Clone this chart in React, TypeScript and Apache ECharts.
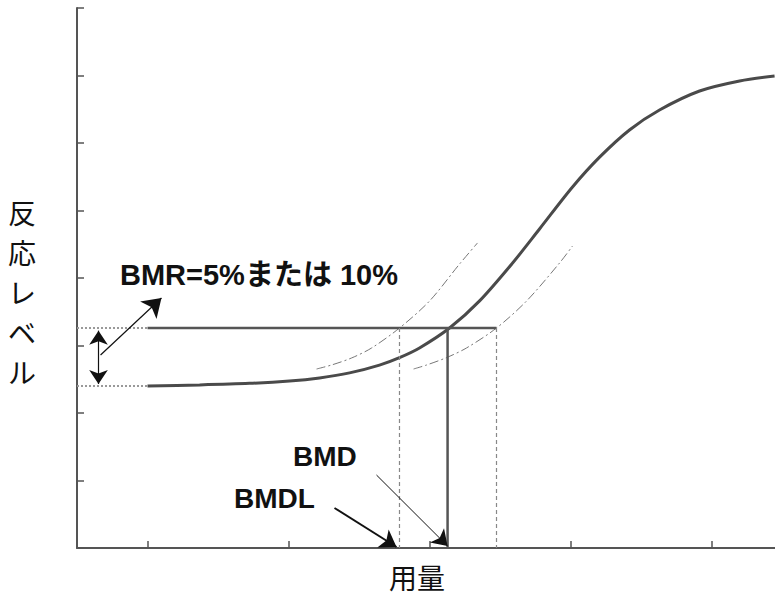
import React, { useEffect, useRef } from "react";
import * as echarts from "echarts";

// Dose-response curve (x: dose units, y: response level)
const curveX = [0, 0.369, 0.723, 1.007, 1.22, 1.433, 1.645, 1.787, 1.929, 2.142, 2.355, 2.589, 2.78, 3.014, 3.206, 3.418, 3.631, 3.915, 4.199, 4.447];
const curveY = [2.4, 2.416, 2.439, 2.474, 2.52, 2.594, 2.71, 2.821, 2.964, 3.259, 3.661, 4.222, 4.726, 5.348, 5.79, 6.193, 6.489, 6.77, 6.919, 6.993];
// Confidence curves (dash-dot)
const ciLeftX = [1.199, 1.305, 1.447, 1.589, 1.787, 2.0, 2.213, 2.34];
const ciLeftY = [2.652, 2.711, 2.815, 2.963, 3.259, 3.659, 4.207, 4.519];
const ciRightX = [1.887, 1.979, 2.121, 2.262, 2.475, 2.688, 2.922, 3.014];
const ciRightY = [2.652, 2.711, 2.821, 2.963, 3.259, 3.659, 4.222, 4.474];
// Key levels
const baseLevel = 2.4;
const bmrLevel = 3.259;
const bmdlX = 1.787;
const bmdX = 2.128;
const bmduX = 2.475;
const xTicks = [0, 1, 2, 3, 4];
const xMin = -0.5;
const xMax = 4.45;
const yMin = 0;
const yMax = 8;

const zip = (xs: number[], ys: number[]) => xs.map((x, i) => [x, ys[i]]);

export default function App() {
  const ref = useRef<HTMLDivElement>(null);
  useEffect(() => {
    document.body.style.margin = "0";
    const chart = echarts.init(ref.current!, undefined, { renderer: "svg" });
    const axisColor = "#555";
    const lineSeries = (data: number[][], lineStyle: any, smooth: any = false) => ({
      type: "line",
      data,
      smooth,
      showSymbol: false,
      symbol: "none",
      silent: true,
      lineStyle,
      z: 3,
    });
    const arrow = (from: number[], to: number[], width: number, both = false, size = 14) => ({
      type: "lines",
      coordinateSystem: "cartesian2d",
      symbol: both ? ["arrow", "arrow"] : ["none", "arrow"],
      symbolSize: size,
      silent: true,
      lineStyle: { color: "#111", width, opacity: 1, curveness: 0 },
      itemStyle: { color: "#111" },
      data: [{ coords: [from, to] }],
      z: 5,
    });
    const font = "'Liberation Sans', Arial, 'Noto Sans CJK JP', sans-serif";
    chart.setOption({
      animation: false,
      grid: { left: 77, top: 8, right: 0, bottom: 50 },
      xAxis: {
        type: "value",
        min: xMin,
        max: xMax,
        axisLine: { show: true, onZero: false, lineStyle: { color: axisColor, width: 2 } },
        axisTick: { show: true, inside: true, length: 7, customValues: xTicks, lineStyle: { color: axisColor, width: 1.5 } },
        axisLabel: { show: false },
        splitLine: { show: false },
      },
      yAxis: {
        type: "value",
        min: yMin,
        max: yMax,
        interval: 1,
        axisLine: { show: true, onZero: false, lineStyle: { color: axisColor, width: 2 } },
        axisTick: { show: true, inside: true, length: 7, lineStyle: { color: axisColor, width: 1.5 } },
        axisLabel: { show: false },
        splitLine: { show: false },
      },
      series: [
        lineSeries(zip(curveX, curveY), { color: "#4a4a4a", width: 3 }, 0.3),
        lineSeries(zip(ciLeftX, ciLeftY), { color: "#777", width: 1, type: [9, 3, 2, 3] }, 0.3),
        lineSeries(zip(ciRightX, ciRightY), { color: "#777", width: 1, type: [9, 3, 2, 3] }, 0.3),
        lineSeries([[0, bmrLevel], [bmduX, bmrLevel]], { color: "#555", width: 2.5 }),
        lineSeries([[xMin, bmrLevel], [0, bmrLevel]], { color: "#999", width: 2, type: "dotted" }),
        lineSeries([[xMin, baseLevel], [0, baseLevel]], { color: "#999", width: 2, type: "dotted" }),
        lineSeries([[bmdlX, bmrLevel], [bmdlX, 0]], { color: "#888", width: 1.2, type: [4, 3] }),
        lineSeries([[bmduX, bmrLevel], [bmduX, 0]], { color: "#888", width: 1.2, type: [4, 3] }),
        lineSeries([[bmdX, bmrLevel], [bmdX, 0]], { color: "#555", width: 2.5 }),
        arrow([-0.3475, 3.22], [-0.3475, 2.43], 1.2, true, 14),
        arrow([-0.333, 2.859], [0.099, 3.704], 1.2, false, 18),
        arrow([1.624, 1.081], [2.128, 0.03], 1, false, 15),
        arrow([1.326, 0.593], [1.766, 0.015], 2, false, 16),
      ],
      graphic: [
        {
          type: "text",
          x: 120,
          y: 275,
          style: { text: "BMR=5%または 10%", font: `bold 29px ${font}`, fill: "#111", verticalAlign: "middle", align: "left" },
        },
        {
          type: "text",
          x: 293,
          y: 456,
          style: { text: "BMD", font: `bold 28px ${font}`, fill: "#111", verticalAlign: "middle", align: "left" },
        },
        {
          type: "text",
          x: 234,
          y: 498,
          style: { text: "BMDL", font: `bold 28px ${font}`, fill: "#111", verticalAlign: "middle", align: "left" },
        },
        {
          type: "text",
          x: 22,
          y: 292,
          style: {
            text: "反\n応\nレ\nベ\nル",
            font: `28px 'Noto Sans CJK JP', sans-serif`,
            lineHeight: 40,
            fill: "#111",
            align: "center",
            verticalAlign: "middle",
          },
        },
        {
          type: "text",
          x: 417,
          y: 577,
          style: { text: "用量", font: `28px 'Noto Sans CJK JP', sans-serif`, lineHeight: 28, fill: "#111", align: "center", verticalAlign: "middle" },
        },
      ],
    });
    return () => chart.dispose();
  }, []);
  return <div ref={ref} style={{ width: 775, height: 598 }} />;
}
